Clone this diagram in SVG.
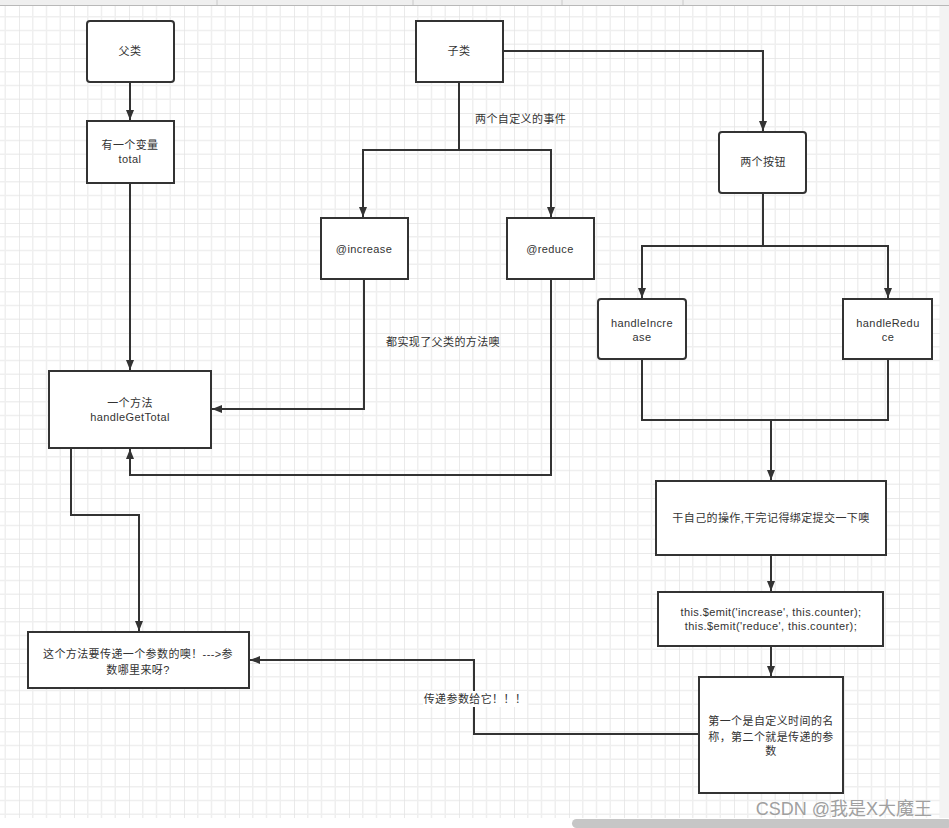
<svg xmlns="http://www.w3.org/2000/svg" width="949" height="828" viewBox="0 0 949 828">
<defs>
<pattern id="grid" patternUnits="userSpaceOnUse" x="19" y="3" width="55" height="55">
<path d="M13.75,0 V55 M27.5,0 V55 M41.25,0 V55 M0,13.75 H55 M0,27.5 H55 M0,41.25 H55" stroke="#efefef" stroke-width="1.5" fill="none"/>
<path d="M0,0 V55 M0,0 H55" stroke="#e4e4e4" stroke-width="1.5" fill="none"/>
</pattern>
<marker id="arr" markerUnits="userSpaceOnUse" markerWidth="10" markerHeight="8" refX="10" refY="4" orient="auto">
<path d="M0,0 L10,4 L0,8 z" fill="#333"/>
</marker>
<style>
.box{fill:#fff;stroke:#333;stroke-width:2}
.t{font-family:"Liberation Sans","Noto Sans CJK SC",sans-serif;font-size:11px;letter-spacing:0.4px;fill:#333;text-anchor:middle}
.lbl{font-family:"Liberation Sans","Noto Sans CJK SC",sans-serif;font-size:11px;letter-spacing:0.4px;fill:#333}
.c{fill:none;stroke:#333;stroke-width:2}
.a{marker-end:url(#arr)}
</style>
</defs>
<rect x="0" y="0" width="949" height="828" fill="#fff"/>
<rect x="0" y="5" width="940" height="813" fill="url(#grid)"/>
<rect x="940" y="0" width="9" height="818" fill="#f3f3f3"/>
<rect x="0" y="0" width="949" height="5" fill="#efefef"/>
<line x1="0" y1="5.5" x2="949" y2="5.5" stroke="#b8b8b8" stroke-width="1"/>
<path d="M217,0 V5 M413,0 V5 M562,0 V5 M683,0 V5" stroke="#c8c8c8" stroke-width="1"/>
<rect x="572" y="819" width="380" height="9" rx="4.5" fill="#c6c6c6"/>

<g id="connectors">
<path class="c a" d="M130,82 V120"/>
<path class="c a" d="M130,183 V370"/>
<path class="c a" d="M459,82 V150 H363 V217"/>
<path class="c a" d="M459,150 H551 V217"/>
<path class="c a" d="M503,51 H763 V131"/>
<path class="c a" d="M763,193 V246 H642 V298"/>
<path class="c a" d="M763,246 H888 V298"/>
<path class="c" d="M642,359 V420 H888 V359"/>
<path class="c a" d="M771,420 V480"/>
<path class="c a" d="M771,555 V591"/>
<path class="c a" d="M771,646 V676"/>
<path class="c a" d="M364,279 V409 H212"/>
<path class="c a" d="M551,279 V475 H130 V449"/>
<path class="c a" d="M71,448 V515 H139 V631"/>
<path class="c a" d="M699,734 H474 V660 H250"/>
<text class="lbl" x="475" y="123">两个自定义的事件</text>
<text class="lbl" x="386" y="346">都实现了父类的方法噢</text>
<rect x="423" y="691" width="104" height="16" fill="#fff"/>
<text class="t" x="475" y="703">传递参数给它！！！</text>
</g>

<g id="n-parent"><rect class="box" x="87" y="21" width="87" height="61" rx="3"/><text class="t" x="130" y="55">父类</text></g>
<g id="n-total"><rect class="box" x="87" y="121" width="87" height="62"/><text class="t" x="130" y="149">有一个变量</text><text class="t" x="130" y="163">total</text></g>
<g id="n-child"><rect class="box" x="416" y="21" width="87" height="61"/><text class="t" x="459" y="55">子类</text></g>
<g id="n-increase"><rect class="box" x="321" y="218" width="87" height="61"/><text class="t" x="364" y="253">@increase</text></g>
<g id="n-reduce"><rect class="box" x="507" y="218" width="87" height="61"/><text class="t" x="550" y="253">@reduce</text></g>
<g id="n-buttons"><rect class="box" x="719" y="132" width="87" height="61" rx="3"/><text class="t" x="763" y="166">两个按钮</text></g>
<g id="n-hinc"><rect class="box" x="598" y="299" width="88" height="60" rx="3"/><text class="t" x="642" y="327">handleIncre</text><text class="t" x="642" y="341">ase</text></g>
<g id="n-hred"><rect class="box" x="843" y="299" width="89" height="60"/><text class="t" x="888" y="327">handleRedu</text><text class="t" x="888" y="341">ce</text></g>
<g id="n-method"><rect class="box" x="49" y="371" width="162" height="77"/><text class="t" x="130" y="407">一个方法</text><text class="t" x="130" y="421">handleGetTotal</text></g>
<g id="n-own"><rect class="box" x="656" y="481" width="230" height="74"/><text class="t" x="771" y="522">干自己的操作,干完记得绑定提交一下噢</text></g>
<g id="n-emit"><rect class="box" x="658" y="592" width="225" height="54"/><text class="t" x="771" y="616">this.$emit('increase', this.counter);</text><text class="t" x="771" y="630">this.$emit('reduce', this.counter);</text></g>
<g id="n-param"><rect class="box" x="28" y="632" width="221" height="56"/><text class="t" x="138" y="658">这个方法要传递一个参数的噢！---&gt;参</text><text class="t" x="138" y="674">数哪里来呀?</text></g>
<g id="n-first"><rect class="box" x="699" y="677" width="144" height="116"/><text class="t" x="771" y="725">第一个是自定义时间的名</text><text class="t" x="771" y="741">称，第二个就是传递的参</text><text class="t" x="771" y="755">数</text></g>

<text x="932" y="815" font-family="Liberation Sans,'Noto Sans CJK SC',sans-serif" font-size="18" fill="#a0a0a0" text-anchor="end">CSDN @我是X大魔王</text>
</svg>
